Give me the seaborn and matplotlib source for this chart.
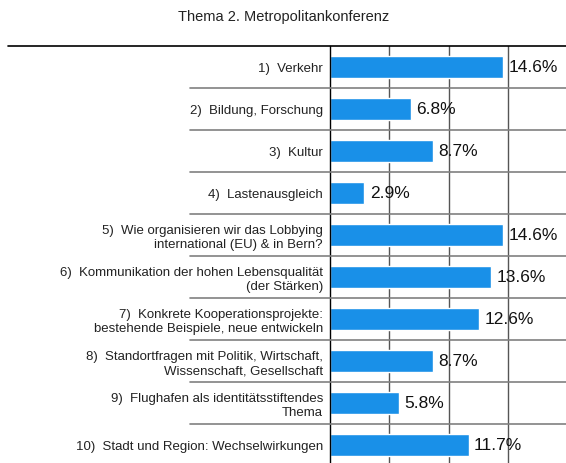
import matplotlib
matplotlib.use("Agg")
import matplotlib.pyplot as plt
import matplotlib.transforms as mtransforms
from matplotlib.lines import Line2D
import seaborn as sns
import pandas as pd

title = "Thema 2. Metropolitankonferenz"
categories = [
    "1)  Verkehr",
    "2)  Bildung, Forschung",
    "3)  Kultur",
    "4)  Lastenausgleich",
    "5)  Wie organisieren wir das Lobbying\ninternational (EU) & in Bern?",
    "6)  Kommunikation der hohen Lebensqualität\n(der Stärken)",
    "7)  Konkrete Kooperationsprojekte:\nbestehende Beispiele, neue entwickeln",
    "8)  Standortfragen mit Politik, Wirtschaft,\nWissenschaft, Gesellschaft",
    "9)  Flughafen als identitätsstiftendes\nThema",
    "10)  Stadt und Region: Wechselwirkungen",
]
values = [14.6, 6.8, 8.7, 2.9, 14.6, 13.6, 12.6, 8.7, 5.8, 11.7]
value_labels = ["14.6%", "6.8%", "8.7%", "2.9%", "14.6%", "13.6%", "12.6%", "8.7%", "5.8%", "11.7%"]
grid_ticks = [5, 10, 15]

sns.set_style("white")
plt.rcParams["font.family"] = ["Liberation Sans", "DejaVu Sans"]

df = pd.DataFrame({"cat": categories, "val": values})

W, H = 566, 464
fig = plt.figure(figsize=(W / 100, H / 100), dpi=100)
ax = fig.add_axes([330 / W, (464 - 467) / H, (W - 330) / W, 420 / H])

sns.barplot(data=df, x="val", y="cat", orient="h", color="#1990E8",
            saturation=1, width=0.52, ax=ax, zorder=3)

ax.set_xlim(0, 19.9)
ax.set_ylim(len(categories) - 0.5, -0.5)
ax.set_xlabel("")
ax.set_ylabel("")
ax.set_xticks(grid_ticks)
ax.set_xticklabels([])
ax.tick_params(axis="x", length=0)
ax.tick_params(axis="y", length=0, pad=5, labelsize=9.5, colors="#222222")
for lab in ax.get_yticklabels():
    lab.set_multialignment("right")
    lab.set_linespacing(1.2)

for x in grid_ticks:
    ax.axvline(x, color="#555555", lw=1, zorder=2)

for s in ["top", "right", "bottom"]:
    ax.spines[s].set_visible(False)
ax.spines["left"].set_color("black")
ax.spines["left"].set_linewidth(1)
ax.spines["left"].set_zorder(4)

for i, (v, t) in enumerate(zip(values, value_labels)):
    ax.text(v + 0.45, i, t, va="center", ha="left", fontsize=12.5, color="#111111", zorder=5)

trans = mtransforms.blended_transform_factory(fig.transFigure, ax.transData)
fig.add_artist(Line2D([8 / W, 1], [-0.5, -0.5], transform=trans, color="black", lw=1.2))
for i in range(len(categories) - 1):
    fig.add_artist(Line2D([190 / W, 1], [i + 0.5, i + 0.5], transform=trans,
                          color="#808080", lw=1.2))

fig.text(284 / W, 1 - 17 / H, title, ha="center", va="center", fontsize=10.5, color="#222222")

fig.savefig("out.png", dpi=100)
